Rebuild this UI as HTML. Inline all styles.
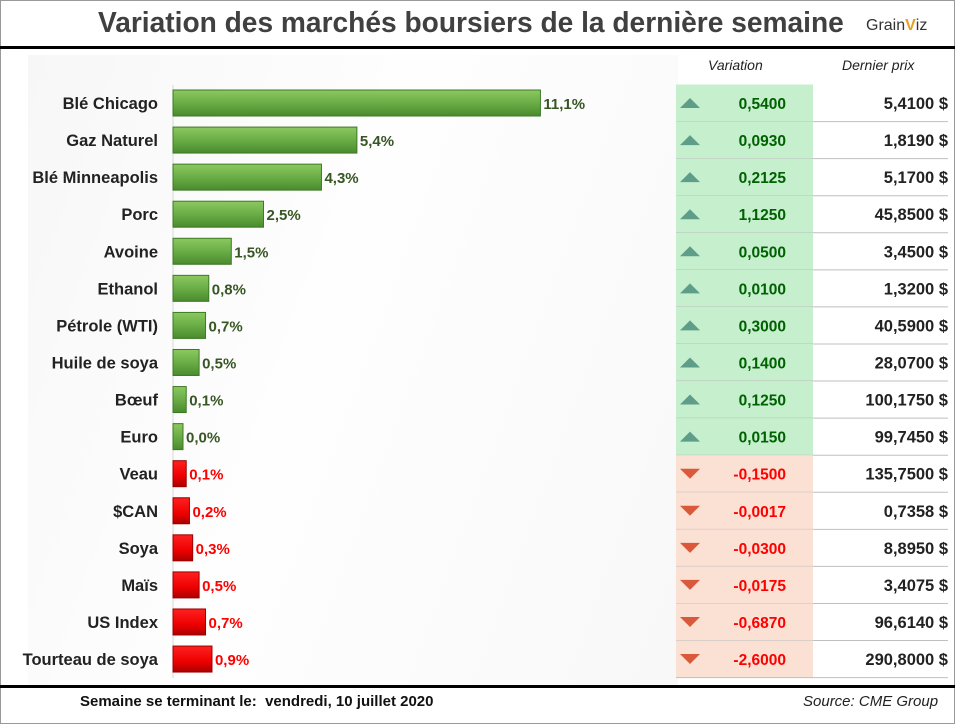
<!DOCTYPE html>
<html><head><meta charset="utf-8"><style>
body{margin:0;width:955px;height:724px;overflow:hidden;background:#fff;font-family:"Liberation Sans",sans-serif}
#frame{position:absolute;left:0;top:0;width:953px;height:722px;border:1px solid #999;background:#fff}
#bg{position:absolute;left:28px;top:55px;width:650px;height:630px;background:linear-gradient(110deg,#f7f7f7 0%,#fefefe 45%,#f8f8f8 100%)}
.t{position:absolute;white-space:nowrap}
</style></head><body>
<div id="frame"></div>
<div id="bg"></div>
<div class="t" style="left:98px;top:7px;font-size:29px;font-weight:bold;color:#404040;letter-spacing:0px;transform:scaleX(0.97);transform-origin:left">Variation des marchés boursiers de la dernière semaine</div>
<div class="t" style="left:866px;top:17px;font-size:16px;color:#333">Grain<span style="color:#e8a020;font-weight:bold">V</span>iz</div>
<div style="position:absolute;left:0;top:46px;width:955px;height:3px;background:#000"></div>
<div style="position:absolute;left:0;top:685px;width:955px;height:3px;background:#000"></div>
<div class="t" style="left:80px;top:693px;font-size:15px;font-weight:bold;color:#111">Semaine se terminant le:&nbsp; vendredi, 10 juillet 2020</div>
<div class="t" style="left:803px;top:693px;font-size:15px;font-style:italic;color:#222">Source: CME Group</div>
<div class="t" style="left:708px;top:57px;font-size:14px;font-style:italic;color:#222">Variation</div>
<div class="t" style="left:842px;top:57px;font-size:14px;font-style:italic;color:#222">Dernier prix</div>
<svg id="chart" width="955" height="724" style="position:absolute;left:0;top:0">
<defs>
<linearGradient id="gg" x1="0" y1="0" x2="0" y2="1"><stop offset="0" stop-color="#8cc860"/><stop offset="0.5" stop-color="#6aad46"/><stop offset="1" stop-color="#4a8a2e"/></linearGradient>
<linearGradient id="rg" x1="0" y1="0" x2="0" y2="1"><stop offset="0" stop-color="#ff2020"/><stop offset="0.6" stop-color="#ee0000"/><stop offset="1" stop-color="#aa0000"/></linearGradient>
</defs>
</svg>
<script>
const categories=["Blé Chicago","Gaz Naturel","Blé Minneapolis","Porc","Avoine","Ethanol","Pétrole (WTI)","Huile de soya","Bœuf","Euro","Veau","$CAN","Soya","Maïs","US Index","Tourteau de soya"];
const pctValues=[11.1,5.4,4.3,2.5,1.5,0.8,0.7,0.5,0.1,0.0,-0.1,-0.2,-0.3,-0.5,-0.7,-0.9];
const variations=["0,5400","0,0930","0,2125","1,1250","0,0500","0,0100","0,3000","0,1400","0,1250","0,0150","-0,1500","-0,0017","-0,0300","-0,0175","-0,6870","-2,6000"];
const prices=["5,4100 $","1,8190 $","5,1700 $","45,8500 $","3,4500 $","1,3200 $","40,5900 $","28,0700 $","100,1750 $","99,7450 $","135,7500 $","0,7358 $","8,8950 $","3,4075 $","96,6140 $","290,8000 $"];
const svg=document.getElementById('chart');const NS='http://www.w3.org/2000/svg';
const x0=173,y0=103,step=37.07;
function yPos(i){return y0+i*step}
function wBar(v){return 10+Math.abs(v)*32.2}
function mk(tag,a){const e=document.createElementNS(NS,tag);for(const k in a)e.setAttribute(k,a[k]);svg.appendChild(e);return e}
const ax=mk('line',{x1:x0,y1:85,x2:x0,y2:678,stroke:'#d8d8d8'});


categories.forEach((c,i)=>{
 const y=yPos(i),v=pctValues[i],neg=v<0||(i>=10);const w=wBar(v);
 const lab=mk('text',{x:158,y:y+6,'text-anchor':'end','font-size':'16.5','font-weight':'bold',fill:'#222'});lab.textContent=c;
 
 
 const r=mk('rect',{x:x0,y:y-13,width:w,height:26,fill:neg?'url(#rg)':'url(#gg)',stroke:neg?'#900':'#3d7a25','stroke-width':1});
 
 
 const vl=mk('text',{x:x0+w+3,y:y+6,'font-size':'15','font-weight':'bold',fill:neg?'#ff0000':'#375623'});vl.textContent=Math.abs(v).toFixed(1).replace('.',',')+'%';
 
 
 const top=y-18.5;
 const cell=mk('rect',{x:676,y:top,width:137,height:step,fill:neg?'#fbe0d4':'#c6efce'});
 
 
 const ln=mk('line',{x1:676,y1:top+step,x2:948,y2:top+step,stroke:'#bfbfbf'});
 
 
 const tri=mk('polygon',{points:neg?'680,'+(y-5)+' 700,'+(y-5)+' 690,'+(y+5):'680,'+(y+5)+' 700,'+(y+5)+' 690,'+(y-5),fill:neg?'#d9593a':'#5e9e88'});
 
 
 const vt=mk('text',{x:786,y:y+6,'text-anchor':'end','font-size':'15.5','font-weight':'bold',fill:neg?'#ff0000':'#006100'});vt.textContent=variations[i];
 
 
 const pt=mk('text',{x:948,y:y+6,'text-anchor':'end','font-size':'16.5','font-weight':'bold',fill:'#222'});pt.textContent=prices[i];
 
 
});
</script>
</body></html>
